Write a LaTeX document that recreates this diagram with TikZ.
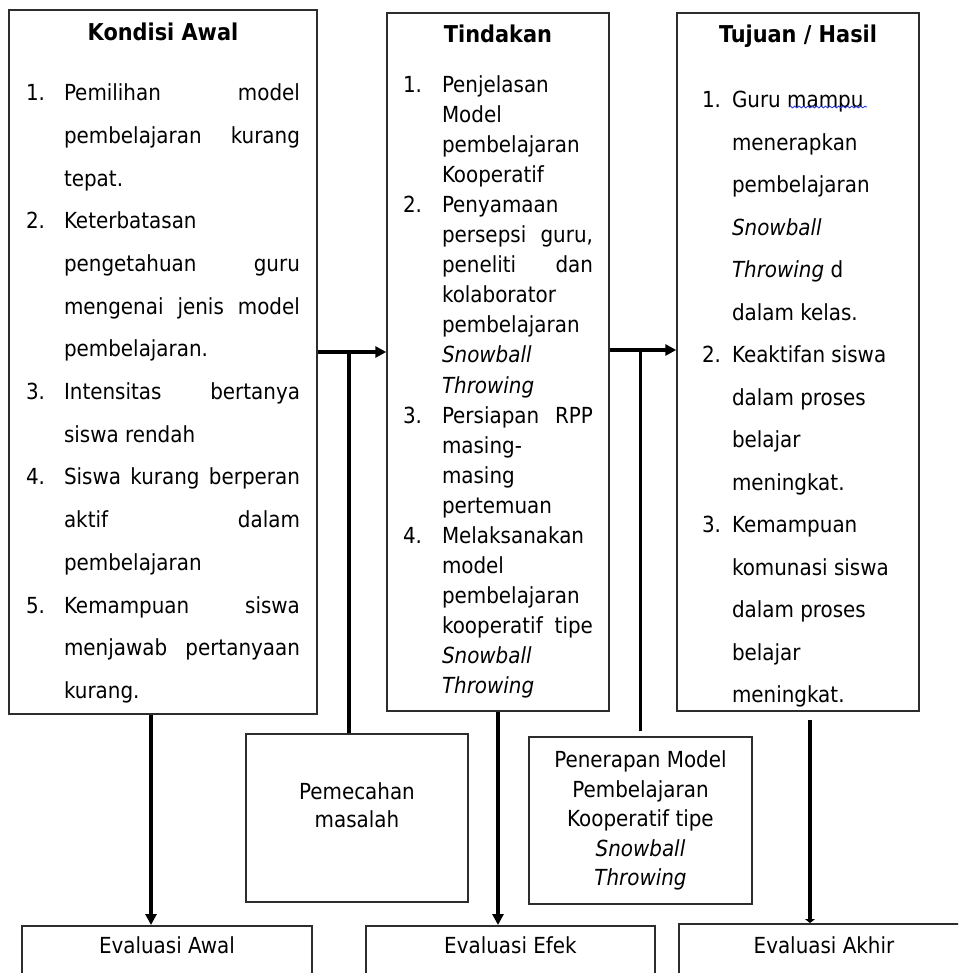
\documentclass[tikz,border=0pt]{standalone}
\usepackage{fontspec}
\setmainfont{DejaVu Sans Condensed}[
  BoldFont={DejaVu Sans Condensed Bold},
  ItalicFont={DejaVu Sans Condensed Oblique},
  BoldItalicFont={DejaVu Sans Condensed Bold Oblique}]
\usepackage{xcolor}
\usepackage{tikz}
\usetikzlibrary{arrows.meta, decorations.pathmorphing}
\definecolor{boxline}{RGB}{45,45,45}
\definecolor{spellblue}{RGB}{40,60,220}

\newlength{\hangw}
\newcommand{\butir}[2]{\par\hangindent=\hangw\hangafter=1\noindent\makebox[\hangw][l]{#1}#2\par}
\newcommand{\judul}[2]{\noindent\makebox[\linewidth]{\rule{0pt}{#1}\fontsize{13.2}{15}\bfseries #2}\par}

\begin{document}
\begin{tikzpicture}[x=0.02cm, y=-0.02cm, font=\fontsize{12.6}{15}\selectfont]
  \tikzset{
    kotak/.style={draw=boxline, line width=0.85pt, inner ysep=0pt},
    conn/.style={line width=1.9pt, -{Triangle[length=0.22cm,width=0.22cm]}},
    garis/.style={line width=1.9pt},
  }
  \useasboundingbox (0,0) rectangle (958,973);
  \clip (0,0) rectangle (958,973);

  % top row
  \node[kotak, inner xsep=0.34cm] (kondisi) at (163,362) {%
    \begin{minipage}[t][14.08cm][t]{5.48cm}
      \fontsize{12.6}{24.3}\selectfont\setlength{\hangw}{0.76cm}%
      \hyphenpenalty=10000 \exhyphenpenalty=10000
      \judul{0.6cm}{Kondisi Awal}
      \vspace{0.36cm}
      \butir{1.}{Pemilihan model\linebreak pembelajaran kurang\linebreak tepat.}
      \butir{2.}{Keterbatasan\\ pengetahuan guru\linebreak mengenai jenis model\linebreak pembelajaran.}
      \butir{3.}{Intensitas bertanya\linebreak siswa rendah}
      \butir{4.}{Siswa kurang berperan\linebreak aktif dalam\linebreak pembelajaran}
      \butir{5.}{Kemampuan siswa\linebreak menjawab pertanyaan\linebreak kurang.}
    \end{minipage}};

  \node[kotak, inner xsep=0.32cm] (tindakan) at (498,362) {%
    \begin{minipage}[t][13.96cm][t]{3.8cm}
      \fontsize{12.6}{17.1}\selectfont\setlength{\hangw}{0.78cm}%
      \hyphenpenalty=10000 \exhyphenpenalty=10000
      \judul{0.59cm}{Tindakan}
      \vspace{0.4cm}
      \butir{1.}{Penjelasan\\ Model\\ pembelajaran\\ Kooperatif}
      \butir{2.}{Penyamaan\\ persepsi guru,\linebreak peneliti dan\linebreak kolaborator\\ pembelajaran\\ \textit{Snowball}\\ \textit{Throwing}}
      \butir{3.}{Persiapan RPP\linebreak masing-\\ masing\\ pertemuan}
      \butir{4.}{Melaksanakan\\ model\\ pembelajaran\\ kooperatif tipe\linebreak \textit{Snowball}\\ \textit{Throwing}}
    \end{minipage}};

  \node[kotak, inner xsep=0.5cm] (tujuan) at (798,362) {%
    \begin{minipage}[t][13.96cm][t]{3.84cm}
      \fontsize{12.6}{24.2}\selectfont\setlength{\hangw}{0.6cm}%
      \raggedright
      \judul{0.59cm}{Tujuan / Hasil}
      \vspace{0.45cm}
      \butir{1.}{Guru mampu\newline menerapkan\newline pembelajaran\newline \textit{Snowball}\newline \textit{Throwing} d\newline dalam kelas.}
      \butir{2.}{Keaktifan siswa\newline dalam proses\newline belajar\newline meningkat.}
      \butir{3.}{Kemampuan\newline komunasi siswa\newline dalam proses\newline belajar\newline meningkat.}
    \end{minipage}};
  % spell-check wave under "mampu"
  \draw[spellblue, line width=0.5pt, decorate,
        decoration={snake, amplitude=0.5pt, segment length=2.5pt}] (789,107) -- (867,107);

  % middle row
  \node[kotak, minimum width=4.44cm, minimum height=3.36cm, align=center,
        font=\fontsize{12.6}{15.9}\selectfont] (pemecahan) at (357,818)
        {Pemecahan\\masalah\rule[-0.5cm]{0pt}{0pt}};
  \node[kotak, minimum width=4.46cm, minimum height=3.34cm, align=center,
        font=\fontsize{12.6}{16.8}\selectfont] (penerapan) at (640.5,820.5)
        {Penerapan Model\\Pembelajaran\\Kooperatif tipe\\\textit{Snowball}\\\textit{Throwing}};

  % bottom row
  \node[kotak, anchor=north, minimum width=5.8cm, text height=0.56cm, text depth=1.2cm]
        (evalAwal) at (167,925) {Evaluasi Awal};
  \node[kotak, anchor=north, minimum width=5.78cm, text height=0.56cm, text depth=1.2cm]
        (evalEfek) at (510.5,925) {Evaluasi Efek};
  \node[kotak, anchor=north, minimum width=5.8cm, text height=0.6cm, text depth=1.2cm]
        (evalAkhir) at (824,923) {Evaluasi Akhir};

  % connectors
  \coordinate (h1) at ([yshift=0.2cm]kondisi.east);
  \coordinate (h2) at ([yshift=0.24cm]tindakan.east);
  \coordinate (t3) at ([xshift=0.24cm, yshift=-0.16cm]tujuan.south);
  \draw[conn] (h1) -- (h1 -| tindakan.west);
  \draw[garis] ([xshift=-0.16cm]pemecahan.north) -- ([xshift=-0.16cm]pemecahan.north |- h1);
  \draw[conn] (h2) -- (h2 -| tujuan.west);
  \draw[garis] ([yshift=0.1cm]penerapan.north) -- (penerapan.north |- h2);
  \draw[conn] ([xshift=-0.24cm]kondisi.south) -- ([xshift=-0.24cm]kondisi.south |- evalAwal.north);
  \draw[conn] (tindakan.south) -- (tindakan.south |- evalEfek.north);
  \draw[garis, -{Triangle[length=0.08cm,width=0.2cm]}] (t3) -- (t3 |- evalAkhir.north);
\end{tikzpicture}
\end{document}
